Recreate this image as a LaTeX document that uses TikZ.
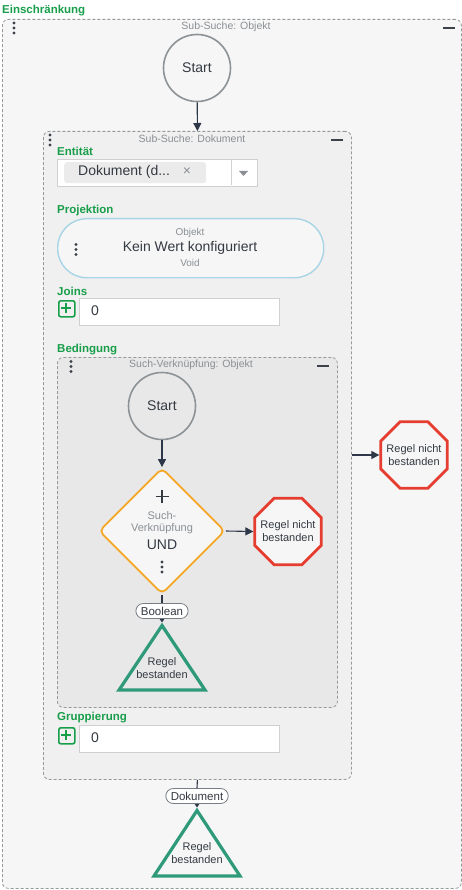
\documentclass[tikz,border=0pt]{standalone}
\usepackage{fontspec}
\setmainfont{Liberation Sans}
\usetikzlibrary{arrows.meta,shapes.geometric}
\definecolor{lblgreen}{RGB}{24,158,74}
\definecolor{titlegray}{RGB}{138,143,148}
\definecolor{darktext}{RGB}{52,58,66}
\definecolor{dashgray}{RGB}{150,153,156}
\definecolor{circgray}{RGB}{140,146,150}
\definecolor{arrowcol}{RGB}{45,55,72}
\definecolor{bgouter}{RGB}{246,246,246}
\definecolor{bgmid}{RGB}{240,240,240}
\definecolor{bginner}{RGB}{232,232,232}
\definecolor{inputgray}{RGB}{208,208,208}
\definecolor{chipgray}{RGB}{235,235,235}
\definecolor{pillblue}{RGB}{168,213,229}
\definecolor{failred}{RGB}{229,62,48}
\definecolor{orangecol}{RGB}{245,166,35}
\definecolor{passgreen}{RGB}{47,154,122}
\definecolor{dotcol}{RGB}{60,66,74}
\definecolor{pillgray}{RGB}{120,126,132}
\begin{document}
\begin{tikzpicture}[x=1pt,y=-1pt,
  grouplbl/.style={font=\fontsize{11.5}{13}\selectfont\bfseries, text=lblgreen, anchor=west, inner sep=0},
  boxtitle/.style={font=\fontsize{10.5}{12}\selectfont, text=titlegray, inner sep=0},
  dashbox/.style={draw=dashgray, dash pattern=on 3pt off 2pt, line width=0.8pt, rounded corners=6pt, anchor=north west, inner sep=0},
  startnode/.style={circle, draw=circgray, line width=1.6pt, minimum size=67pt, inner sep=0, font=\fontsize{14}{16}\selectfont, text=darktext},
  conn/.style={draw=arrowcol, line width=1.1pt},
  arr/.style={conn, -{Triangle[length=8pt,width=8pt]}},
  smallarr/.style={conn, -{Triangle[length=3.5pt,width=4.5pt]}},
  failnode/.style={regular polygon, regular polygon sides=8, draw=failred, line width=2.8pt, fill=bgouter, minimum size=72pt, inner sep=0},
  failtext/.style={align=center, font=\fontsize{11}{13}\selectfont, text=darktext, inner sep=0},
  passtri/.style={draw=passgreen, line width=3.2pt, line join=miter},
  passtext/.style={align=center, font=\fontsize{11}{13}\selectfont, text=darktext, inner sep=0},
  inputbox/.style={draw=inputgray, fill=white, line width=0.8pt, anchor=north west, inner sep=0},
  plusbox/.style={draw=lblgreen, line width=1.6pt, rounded corners=2pt, anchor=north west, inner sep=0, minimum width=16pt, minimum height=16pt},
  valtext/.style={font=\fontsize{14}{16}\selectfont, text=darktext, anchor=west, inner sep=0},
  typepill/.style={draw=pillgray, fill=white, line width=0.8pt, rounded corners=7.5pt, inner xsep=5pt, inner ysep=0pt, minimum height=15pt, font=\fontsize{11.5}{13}\selectfont, text=darktext},
  menudots/.pic={\fill[dotcol] (0,-5) circle (1.6pt) (0,0) circle (1.6pt) (0,5) circle (1.6pt);},
  minusbar/.style={draw=dotcol, line width=1.6pt}
]
\useasboundingbox (0,0) rectangle (462,890);
\fill[white] (0,0) rectangle (462,890);

% outer container
\node[grouplbl] (lblEin) at (2,11) {Einschränkung};
\node[dashbox, fill=bgouter, minimum width=459pt, minimum height=869pt] (outer) at (2,19) {};
\node[boxtitle] (tOuter) at (226,27) {Sub-Suche: Objekt};
\pic at (14,28) {menudots};
\draw[minusbar] (443,28) -- (455,28);

\node[startnode] (start1) at (197,68) {Start};

% Sub-Suche: Dokument
\node[dashbox, fill=bgmid, minimum width=308pt, minimum height=648pt] (subdoc) at (43,131) {};
\node[boxtitle] (tSubdoc) at (192,139) {Sub-Suche: Dokument};
\pic at (50,140) {menudots};
\draw[minusbar] (331,140) -- (343,140);
\draw[arr] (start1) -- (subdoc.north);

% Entitaet
\node[grouplbl] (lblEnt) at (57,151) {Entität};
\node[inputbox, minimum width=200pt, minimum height=27pt] (dropdown) at (57,159) {};
\node[fill=chipgray, rounded corners=3pt, anchor=north west, inner sep=0, minimum width=142pt, minimum height=21pt] (chip) at (64,162) {};
\node[valtext] (chiptext) at (78,172) {Dokument (d...};
\node[font=\fontsize{14}{16}\selectfont, text=titlegray, inner sep=0] (chipx) at (187,172) {×};
\draw[inputgray, line width=0.8pt] (231,159.5) -- (231,185.5);
\fill[titlegray] (239,171) -- (248,171) -- (243.5,176) -- cycle;

% Projektion
\node[grouplbl] (lblProj) at (57,211) {Projektion};
\node[draw=pillblue, line width=1.4pt, fill=bgouter, rounded corners=29pt, anchor=north west, inner sep=0, minimum width=266pt, minimum height=59pt] (projpill) at (57,218) {};
\node[font=\fontsize{10}{12}\selectfont, text=titlegray, inner sep=0] (projtype) at (190,233) {Objekt};
\node[font=\fontsize{14}{16}\selectfont, text=darktext, inner sep=0] (projval) at (190,248) {Kein Wert konfiguriert};
\node[font=\fontsize{10}{12}\selectfont, text=titlegray, inner sep=0] (projvoid) at (190,263) {Void};
\pic at (76,249.5) {menudots};

% Joins
\node[grouplbl] (lblJoins) at (57,291) {Joins};
\node[plusbox] (joinsplus) at (58,300) {};
\draw[lblgreen, line width=1.6pt] (66,303) -- (66,313) (61,308) -- (71,308);
\node[inputbox, minimum width=200pt, minimum height=27pt] (joinsin) at (79,298) {};
\node[valtext] (joinsval) at (91,311) {0};

% Bedingung
\node[grouplbl] (lblBed) at (57,350) {Bedingung};
\node[dashbox, fill=bginner, minimum width=280pt, minimum height=350pt] (suchv) at (57,357) {};
\node[boxtitle] (tSuchv) at (191,365) {Such-Verknüpfung: Objekt};
\pic at (71,366.5) {menudots};
\draw[minusbar] (317,366) -- (329,366);

\node[startnode] (start2) at (162,406) {Start};
\node[diamond, draw=orangecol, line width=1.8pt, fill=bgouter, rounded corners=5pt, minimum width=126pt, minimum height=126pt, inner sep=0] (andnode) at (162,531) {};
\draw[arr] (start2) -- (andnode.north);
\draw[darktext, line width=1.5pt] (162,490) -- (162,503) (155.5,496.5) -- (168.5,496.5);
\node[font=\fontsize{11}{13}\selectfont, text=titlegray, inner sep=0] (andl1) at (162,516) {Such-};
\node[font=\fontsize{11}{13}\selectfont, text=titlegray, inner sep=0] (andl2) at (162,529) {Verknüpfung};
\node[font=\fontsize{14}{16}\selectfont, text=darktext, inner sep=0] (andl3) at (162,545) {UND};
\pic at (162,567) {menudots};

\node[failnode] (fail1) at (288,531.5) {};
\node[failtext] (fail1t) at (288,531.5) {Regel nicht\\bestanden};
\draw[arr] (andnode.east) -- (fail1.west);

\node[typepill] (boolpill) at (162,611) {Boolean};
\draw[conn] (andnode.south) -- (boolpill.north);
\coordinate (tri1apex) at (162,622.5);
\draw[passtri] (162,625.5) -- (205,690) -- (119,690) -- cycle;
\draw[smallarr] (boolpill.south) -- (tri1apex);
\node[passtext] (pass1) at (162,668.5) {Regel\\bestanden};

% Gruppierung
\node[grouplbl] (lblGrp) at (57,718) {Gruppierung};
\node[plusbox] (grpplus) at (58,727) {};
\draw[lblgreen, line width=1.6pt] (66,730) -- (66,740) (61,735) -- (71,735);
\node[inputbox, minimum width=200pt, minimum height=27pt] (grpin) at (79,725) {};
\node[valtext] (grpval) at (91,738) {0};

% outside of Sub-Suche: Dokument
\node[failnode] (fail2) at (414,455) {};
\node[failtext] (fail2t) at (414,455) {Regel nicht\\bestanden};
\draw[arr] (subdoc.east |- fail2) -- (fail2.west);

\node[typepill] (dokpill) at (197,796) {Dokument};
\draw[conn] (subdoc.south) -- (dokpill.north);
\coordinate (tri2apex) at (197,807.5);
\draw[passtri] (197,810.5) -- (240,876) -- (154,876) -- cycle;
\draw[smallarr] (dokpill.south) -- (tri2apex);
\node[passtext] (pass2) at (197,853.5) {Regel\\bestanden};
\end{tikzpicture}
\end{document}
